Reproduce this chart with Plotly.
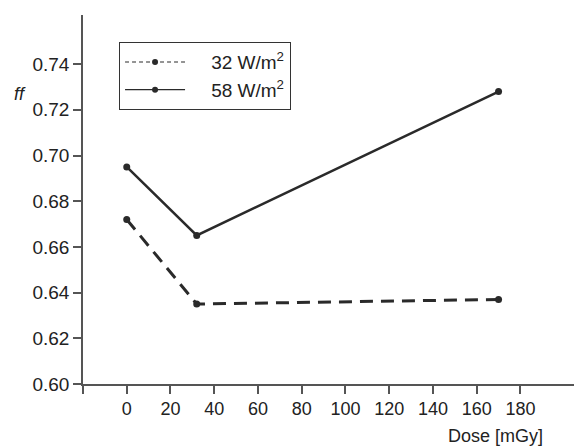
import plotly.graph_objects as go

dose = [0, 32, 170]
ff_32 = [0.672, 0.635, 0.637]
ff_58 = [0.695, 0.665, 0.728]
x_ticks = [-20, 0, 20, 40, 60, 80, 100, 120, 140, 160, 180]
x_ticktext = [""] + [str(v) for v in x_ticks[1:]]
y_ticks = [0.60, 0.62, 0.64, 0.66, 0.68, 0.70, 0.72, 0.74]
y_ticktext = ["%.2f" % v for v in y_ticks]

ink = "#2a2a2a"
axis_col = "#555555"
font = "Liberation Sans, Arial, sans-serif"
pad = "\u00a0" * 4

fig = go.Figure()
fig.add_trace(go.Scatter(x=dose, y=ff_32, mode="lines+markers", showlegend=False,
                         line=dict(color=ink, width=3, dash="13px,8px"),
                         marker=dict(color=ink, size=7)))
fig.add_trace(go.Scatter(x=dose, y=ff_58, mode="lines+markers", showlegend=False,
                         line=dict(color=ink, width=2.5),
                         marker=dict(color=ink, size=7)))
# legend entries (thin lines as in the reference key)
fig.add_trace(go.Scatter(x=[None], y=[None], mode="lines+markers", name=pad + "32 W/m<sup>2</sup>",
                         line=dict(color=ink, width=1.2, dash="4px,3px"),
                         marker=dict(color=ink, size=6)))
fig.add_trace(go.Scatter(x=[None], y=[None], mode="lines+markers", name=pad + "58 W/m<sup>2</sup>",
                         line=dict(color=ink, width=1.2),
                         marker=dict(color=ink, size=6)))

fig.update_layout(
    width=574, height=446,
    margin=dict(l=83, r=0, t=15, b=62),
    plot_bgcolor="white", paper_bgcolor="white",
    font=dict(family=font, size=18, color="#222"),
    legend=dict(x=0.073, y=0.927, xanchor="left", yanchor="top",
                bordercolor="#333", borderwidth=1.2, bgcolor="white",
                font=dict(size=19), itemwidth=60, tracegroupgap=4),
    xaxis=dict(range=[-20, 204.5], tickvals=x_ticks, ticktext=x_ticktext,
               showgrid=False, zeroline=False, showline=True, linecolor=axis_col, linewidth=1.5,
               ticks="outside", ticklen=8, tickwidth=1.5, tickcolor=axis_col,
               tickfont=dict(size=18)),
    yaxis=dict(range=[0.60, 0.7615], tickvals=y_ticks, ticktext=y_ticktext,
               showgrid=False, zeroline=False, showline=True, linecolor=axis_col, linewidth=1.5,
               ticks="outside", ticklen=8, tickwidth=1.5, tickcolor=axis_col,
               tickfont=dict(size=19)),
    annotations=[
        dict(text="<i>ff</i>", xref="paper", yref="paper", x=-0.128, y=0.786,
             showarrow=False, font=dict(size=18), xanchor="center", yanchor="middle"),
        dict(text="Dose [mGy]", xref="paper", yref="paper", x=0.94, y=-0.141,
             showarrow=False, font=dict(size=18), xanchor="right", yanchor="middle"),
    ],
)

fig.write_html("out.html")
